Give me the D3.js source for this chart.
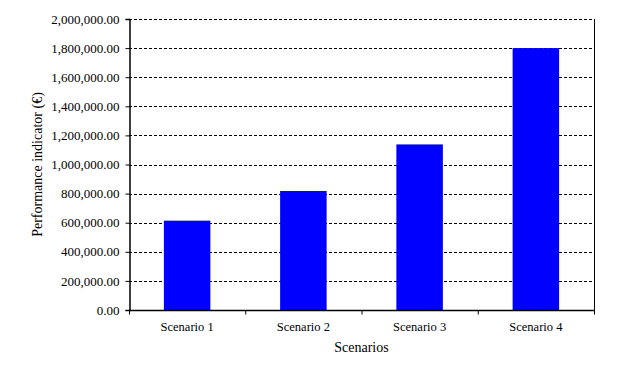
<!DOCTYPE html>
<html><head><meta charset="utf-8">
<script src="https://cdn.jsdelivr.net/npm/d3@7/dist/d3.min.js"></script>
<style>body{margin:0;background:#fff}svg{display:block}text{font-family:'Liberation Serif','Times New Roman',serif}</style>
</head><body>
<svg id="c" width="619" height="370"></svg>
<script>
const categories = ["Scenario 1", "Scenario 2", "Scenario 3", "Scenario 4"];
const values = [614000, 818000, 1138000, 1800000];
const yTicks = [0, 200000, 400000, 600000, 800000, 1000000, 1200000, 1400000, 1600000, 1800000, 2000000];
const yTitle = "Performance indicator (€)";
const xTitle = "Scenarios";

const svg = d3.select("#c");
const L = 129, R = 594, T = 19, B = 310;
const font = "'Liberation Serif', 'Times New Roman', serif";

const x = d3.scaleBand().domain(categories).range([L, R]).paddingInner(0.6).paddingOuter(0.3);
const xb = d3.scaleBand().domain(categories).range([L, R]);
const y = d3.scaleLinear().domain([0, 2000000]).range([B, T]);
const fmt = d3.format(",.2f");

// gridlines
svg.append("g").selectAll("line").data(yTicks.filter(d => d > 0)).join("line")
  .attr("x1", L).attr("x2", R).attr("y1", d => Math.round(y(d)) + 0.5).attr("y2", d => Math.round(y(d)) + 0.5)
  .attr("stroke", "#000").attr("stroke-width", 1).attr("stroke-dasharray", "3,2");

// bars
svg.append("g").selectAll("rect").data(values).join("rect")
  .attr("x", (d, i) => x(categories[i])).attr("width", x.bandwidth())
  .attr("y", d => y(d)).attr("height", d => y(0) - y(d))
  .attr("fill", "#0000ff");

// right border
svg.append("line").attr("x1", R + 0.5).attr("x2", R + 0.5).attr("y1", T).attr("y2", B)
  .attr("stroke", "#000").attr("stroke-width", 1);

// y axis
const yAxis = svg.append("g").attr("transform", `translate(${L + 0.5},0)`)
  .call(d3.axisLeft(y).tickValues(yTicks).tickFormat(fmt).tickSize(4).tickPadding(6));
yAxis.attr("font-family", null);
yAxis.select(".domain").attr("stroke-width", 1.5);
yAxis.selectAll("text").style("font-family", font).attr("font-size", 13).attr("fill", "#000");

// x axis
const xAxisG = svg.append("g").attr("transform", `translate(0,${B + 0.5})`);
xAxisG.append("line").attr("x1", L).attr("x2", R + 1).attr("y1", 0).attr("y2", 0)
  .attr("stroke", "#000").attr("stroke-width", 1.5);
const bounds = categories.map(c => xb(c)).concat([R]);
xAxisG.selectAll("line.t").data(bounds).join("line").attr("class", "t")
  .attr("x1", d => d + 0.5).attr("x2", d => d + 0.5).attr("y1", 0).attr("y2", 4)
  .attr("stroke", "#000");
xAxisG.selectAll("text").data(categories).join("text")
  .attr("x", d => xb(d) + xb.bandwidth() / 2).attr("y", 20)
  .attr("text-anchor", "middle").style("font-family", font).attr("font-size", 12.5).text(d => d);

// titles
svg.append("text").attr("x", (L + R) / 2).attr("y", 352).attr("text-anchor", "middle")
  .style("font-family", font).attr("font-size", 14).text(xTitle);
svg.append("text").attr("transform", `translate(42,${(T + B) / 2}) rotate(-90)`)
  .attr("text-anchor", "middle").style("font-family", font).attr("font-size", 14).text(yTitle);
</script>
</body></html>
